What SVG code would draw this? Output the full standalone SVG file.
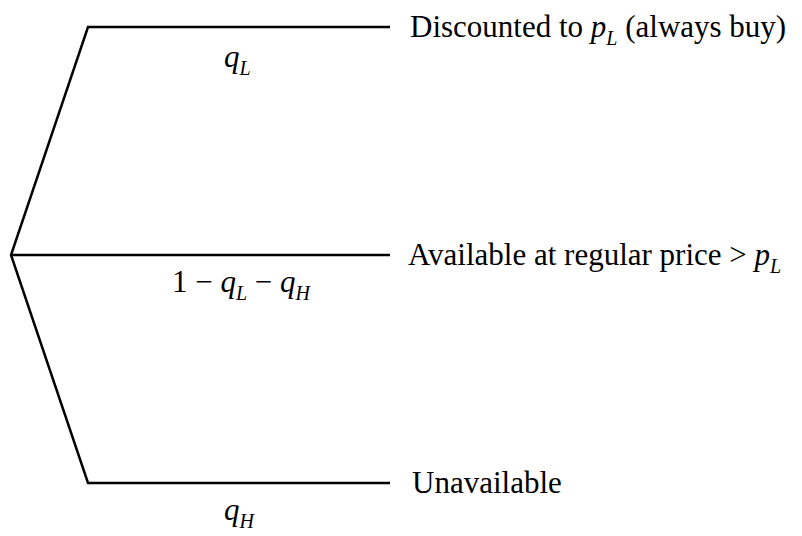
<svg xmlns="http://www.w3.org/2000/svg" width="802" height="536" viewBox="0 0 802 536">
<style>
.ln{fill:none;stroke:#000;stroke-width:2.5;stroke-linejoin:miter}
.t{font-family:"Liberation Serif","Times New Roman",serif;font-size:31px;fill:#000}
.i{font-style:italic}
.s{font-style:italic;font-size:20px}
</style>
<rect width="802" height="536" fill="#fff"/>
<g id="connectors">
<polyline class="ln" points="390,27 88,27 11,255 88,483 390,483"/>
<line class="ln" x1="11" y1="255" x2="390" y2="255"/>
</g>
<g id="node-discounted">
<text class="t" x="410" y="37">Discounted to <tspan class="i">p</tspan><tspan class="s" dy="8">L</tspan><tspan dy="-8"> (always buy)</tspan></text>
</g>
<g id="node-available">
<text class="t" x="408" y="265">Available at regular price &gt; <tspan class="i">p</tspan><tspan class="s" dy="8">L</tspan></text>
</g>
<g id="node-unavailable">
<text class="t" x="412" y="493">Unavailable</text>
</g>
<g id="label-qL">
<text class="t" x="224" y="67"><tspan class="i">q</tspan><tspan class="s" dy="8">L</tspan></text>
</g>
<g id="label-mid">
<text class="t" x="172" y="292">1 − <tspan class="i">q</tspan><tspan class="s" dy="8">L</tspan><tspan dy="-8"> − </tspan><tspan class="i">q</tspan><tspan class="s" dy="8">H</tspan></text>
</g>
<g id="label-qH">
<text class="t" x="224" y="520"><tspan class="i">q</tspan><tspan class="s" dy="8">H</tspan></text>
</g>
</svg>
